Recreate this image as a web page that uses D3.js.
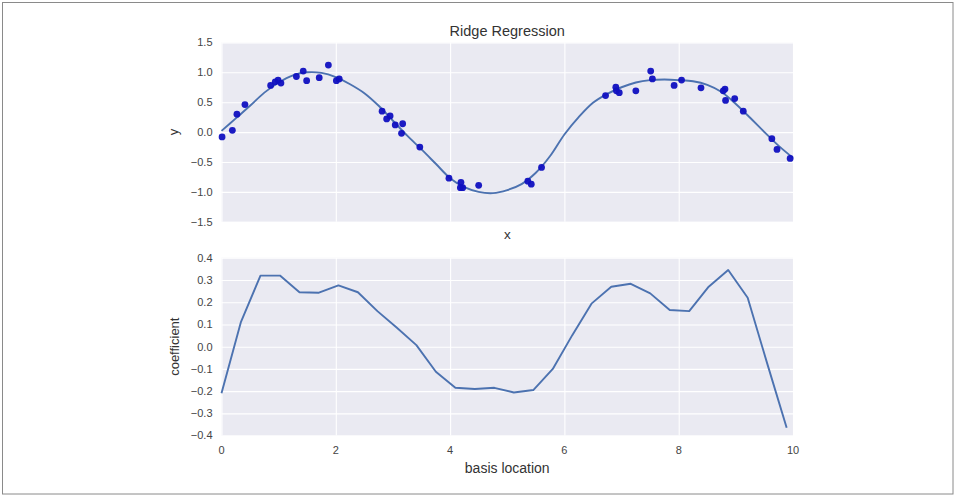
<!DOCTYPE html>
<html>
<head>
<meta charset="utf-8">
<script src="https://cdn.jsdelivr.net/npm/d3@7"></script>
<style>
  html, body { margin: 0; padding: 0; background: #fff; }
  svg { display: block; }
  text { font-family: "Liberation Sans", Arial, sans-serif; }
</style>
</head>
<body>
<svg id="chart" width="956" height="497"></svg>
<script>
// ---- data ----
const scatterX = [0.01, 0.19, 0.27, 0.41, 0.86, 0.94, 0.99, 1.04, 1.31, 1.43, 1.49, 1.71, 1.87, 2.01, 2.06,
  2.81, 2.89, 2.95, 3.04, 3.17, 3.15, 3.47, 3.98, 4.19, 4.18, 4.22, 4.50,
  5.36, 5.42, 5.60, 6.72, 6.90, 6.91, 6.96, 7.25, 7.51, 7.54,
  7.92, 8.05, 8.39, 8.81, 8.78, 8.82, 8.98, 9.13, 9.63, 9.72, 9.95];
const scatterY = [-0.08, 0.03, 0.30, 0.46, 0.78, 0.84, 0.87, 0.82, 0.93, 1.02, 0.86, 0.91, 1.12, 0.86, 0.89,
  0.35, 0.22, 0.27, 0.12, 0.14, -0.02, -0.25, -0.77, -0.84, -0.93, -0.93, -0.89,
  -0.82, -0.87, -0.59, 0.61, 0.75, 0.69, 0.66, 0.69, 1.02, 0.89,
  0.78, 0.87, 0.74, 0.72, 0.69, 0.53, 0.56, 0.35, -0.11, -0.29, -0.44];

const fitX = [0, 0.25, 0.5, 0.75, 1.0, 1.25, 1.5, 1.75, 2.0, 2.25, 2.5, 2.75, 3.0, 3.25, 3.5, 3.75,
  4.0, 4.25, 4.5, 4.75, 5.0, 5.25, 5.5, 5.75, 6.0, 6.25, 6.5, 6.75, 7.0, 7.25, 7.5, 7.75,
  8.0, 8.25, 8.5, 8.75, 9.0, 9.25, 9.5, 9.75, 10];
const fitY = [0.02, 0.23, 0.44, 0.66, 0.83, 0.95, 1.00, 0.99, 0.92, 0.80, 0.65, 0.44, 0.19, -0.06, -0.29, -0.53,
  -0.77, -0.92, -1.00, -1.02, -0.97, -0.87, -0.68, -0.40, -0.04, 0.25, 0.49, 0.64, 0.75, 0.83, 0.87, 0.88,
  0.87, 0.85, 0.79, 0.67, 0.47, 0.24, 0.00, -0.23, -0.43];

const basisX = [0, 0.341, 0.682, 1.023, 1.364, 1.705, 2.046, 2.387, 2.728, 3.069, 3.410, 3.751, 4.092, 4.433,
  4.774, 5.115, 5.456, 5.797, 6.138, 6.479, 6.820, 7.161, 7.502, 7.843, 8.184, 8.525, 8.866, 9.207, 9.548, 9.889];
const coefY = [-0.21, 0.112, 0.32, 0.32, 0.245, 0.243, 0.276, 0.245, 0.16, 0.085, 0.007, -0.113, -0.185, -0.19,
  -0.185, -0.206, -0.195, -0.10, 0.052, 0.195, 0.27, 0.283, 0.24, 0.165, 0.16, 0.27, 0.345, 0.22, -0.075, -0.365];

const topYTicks = [-1.5, -1.0, -0.5, 0.0, 0.5, 1.0, 1.5];
const botYTicks = [-0.4, -0.3, -0.2, -0.1, 0.0, 0.1, 0.2, 0.3, 0.4];
const xTicks = [0, 2, 4, 6, 8, 10];

// ---- layout ----
const svg = d3.select("#chart");
const L = 221.5, R = 793;
const top1 = 42.4, bot1 = 221.8;
const top2 = 257.8, bot2 = 435.6;

// frame
svg.append("rect").attr("x", 2.5).attr("y", 2.5).attr("width", 950.5).attr("height", 491.5)
  .attr("fill", "none").attr("stroke", "#8a8a8a").attr("stroke-width", 1);

const x = d3.scaleLinear().domain([0, 10]).range([L, R]);
const y1 = d3.scaleLinear().domain([-1.5, 1.5]).range([bot1, top1]);
const y2 = d3.scaleLinear().domain([-0.4, 0.4]).range([bot2, top2]);

function panel(yScale, yTicks, top, bot, fmt, showX) {
  const g = svg.append("g");
  g.append("rect").attr("x", L).attr("y", top).attr("width", R - L).attr("height", bot - top).attr("fill", "#EAEAF2");
  const gy = g.append("g").attr("transform", `translate(${L},0)`)
    .call(d3.axisLeft(yScale).tickValues(yTicks).tickSize(-(R - L)).tickFormat(""));
  gy.select(".domain").remove();
  gy.selectAll("line").attr("stroke", "#fff").attr("stroke-width", 1.1);
  const gx = g.append("g").attr("transform", `translate(0,${bot})`)
    .call(d3.axisBottom(x).tickValues(xTicks).tickSize(-(bot - top)).tickFormat(""));
  gx.select(".domain").remove();
  gx.selectAll("line").attr("stroke", "#fff").attr("stroke-width", 1.1);
  g.selectAll(".ylab").data(yTicks).enter().append("text")
    .attr("x", L - 9).attr("y", d => yScale(d)).attr("dy", "0.35em")
    .attr("text-anchor", "end").attr("font-size", 11).attr("fill", "#444")
    .text(d => fmt(d).replace("-", "\u2212"));
  if (showX) {
    g.selectAll(".xlab").data(xTicks).enter().append("text")
      .attr("x", d => x(d)).attr("y", bot + 18)
      .attr("text-anchor", "middle").attr("font-size", 11).attr("fill", "#444")
      .text(d => d);
  }
  return g;
}

const f1 = d3.format(".1f");
panel(y1, topYTicks, top1, bot1, f1, false);
panel(y2, botYTicks, top2, bot2, f1, true);

svg.append("clipPath").attr("id", "clip1").append("rect")
  .attr("x", L - 6).attr("y", top1).attr("width", R - L + 12).attr("height", bot1 - top1);

// fit line
const fitLine = d3.line().x(d => x(d[0])).y(d => y1(d[1])).curve(d3.curveCatmullRom);
svg.append("path").datum(fitX.map((v, i) => [v, fitY[i]]))
  .attr("d", fitLine).attr("fill", "none").attr("stroke", "#4C72B0").attr("stroke-width", 1.9);

// scatter
svg.append("g").attr("clip-path", "url(#clip1)").selectAll("circle")
  .data(scatterX.map((v, i) => [v, scatterY[i]])).enter().append("circle")
  .attr("cx", d => x(d[0])).attr("cy", d => y1(d[1])).attr("r", 3.4)
  .attr("fill", "#1010C0").attr("fill-opacity", 0.95);

// coefficient line
const coefLine = d3.line().x(d => x(d[0])).y(d => y2(d[1]));
svg.append("path").datum(basisX.map((v, i) => [v, coefY[i]]))
  .attr("d", coefLine).attr("fill", "none").attr("stroke", "#4C72B0").attr("stroke-width", 1.9)
  .attr("stroke-linejoin", "round");

// titles / labels
const mid = (L + R) / 2;
svg.append("text").attr("x", mid).attr("y", 36).attr("text-anchor", "middle")
  .attr("font-size", 14.5).attr("fill", "#333").text("Ridge Regression");
svg.append("text").attr("x", mid).attr("y", 238.5).attr("text-anchor", "middle")
  .attr("font-size", 13.5).attr("fill", "#333").text("x");
svg.append("text").attr("x", mid).attr("y", 473).attr("text-anchor", "middle")
  .attr("font-size", 14).attr("fill", "#333").text("basis location");
svg.append("text").attr("transform", `translate(178,${(top1 + bot1) / 2}) rotate(-90)`)
  .attr("text-anchor", "middle").attr("font-size", 13).attr("fill", "#333").text("y");
svg.append("text").attr("transform", `translate(179,${(top2 + bot2) / 2}) rotate(-90)`)
  .attr("text-anchor", "middle").attr("font-size", 13).attr("fill", "#333").text("coefficient");
</script>
</body>
</html>
